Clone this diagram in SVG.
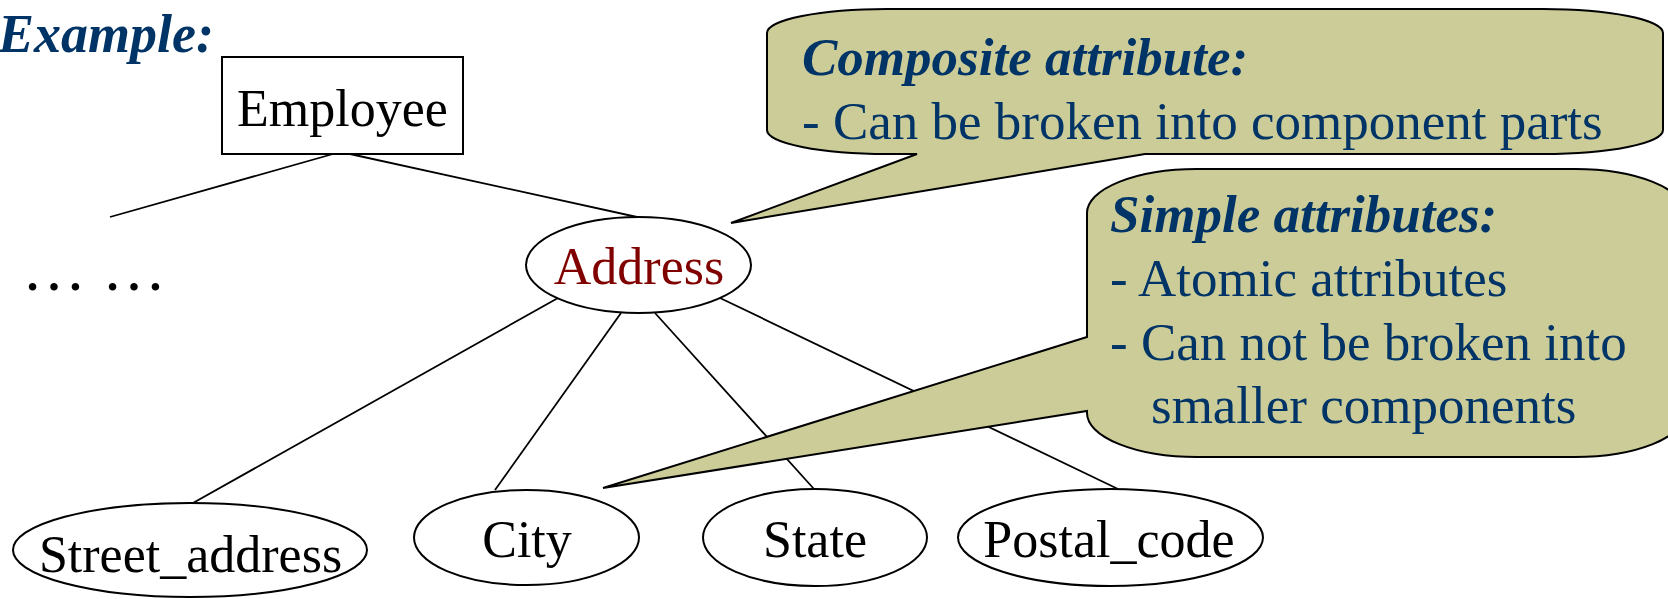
<svg xmlns="http://www.w3.org/2000/svg" width="1668" height="599" viewBox="0 0 1668 599">
  <style>
    .serif { font-family: "Liberation Serif", "Times New Roman", serif; }
    .shape { fill: #ffffff; stroke: #000000; stroke-width: 2; }
    .label { font-size: 52px; fill: #000000; text-anchor: middle; }
    .conn line { stroke: #000000; stroke-width: 1.8; }
    .callout { fill: #cccc99; stroke: #000000; stroke-width: 2; stroke-linejoin: miter; }
    .note { font-size: 53px; fill: #003366; }
    .head { font-weight: bold; font-style: italic; }
  </style>

  <rect width="1668" height="599" fill="#ffffff"/>

  <!-- heading -->
  <text class="serif head" x="-2" y="52" font-size="54" fill="#003366">Example:</text>

  <!-- elided sibling attributes -->
  <text class="serif" x="22" y="290" font-size="64" fill="#000000">… …</text>

  <!-- connectors -->
  <g id="connectors" class="conn">
    <line x1="333" y1="154" x2="110" y2="217"/>
    <line x1="350" y1="154" x2="637" y2="217"/>
    <line x1="558" y1="298" x2="193" y2="503"/>
    <line x1="621" y1="313" x2="495" y2="490"/>
    <line x1="655" y1="313" x2="814" y2="489"/>
    <line x1="720" y1="298" x2="1118" y2="489"/>
  </g>

  <!-- entity -->
  <g id="employee">
    <rect class="shape" x="222" y="57" width="241" height="97"/>
    <text class="serif label" x="342.5" y="126" font-size="53">Employee</text>
  </g>

  <!-- composite attribute -->
  <g id="address">
    <ellipse class="shape" cx="638.5" cy="265" rx="112.5" ry="48"/>
    <text class="serif label" x="639" y="284" style="fill:#800000">Address</text>
  </g>

  <!-- simple attributes -->
  <g id="street-address">
    <ellipse class="shape" cx="190" cy="550" rx="177" ry="47"/>
    <text class="serif label" x="190.5" y="572">Street_address</text>
  </g>
  <g id="city">
    <ellipse class="shape" cx="526.5" cy="537.5" rx="112.5" ry="47.5"/>
    <text class="serif label" x="527" y="557">City</text>
  </g>
  <g id="state">
    <ellipse class="shape" cx="815" cy="537.5" rx="112" ry="48.5"/>
    <text class="serif label" x="815" y="557">State</text>
  </g>
  <g id="postal-code">
    <ellipse class="shape" cx="1110.5" cy="537.5" rx="152.5" ry="48.5"/>
    <text class="serif label" x="1109" y="557">Postal_code</text>
  </g>

  <!-- callout: composite attribute -->
  <g id="note-composite">
    <path class="callout" d="M 887,9 H 1543 A 120 24 0 0 1 1663 33 V 130 A 120 24 0 0 1 1543 154 H 1145 L 731 223 L 917 154 H 887 A 120 24 0 0 1 767 130 V 33 A 120 24 0 0 1 887 9 Z"/>
    <text class="serif note head" x="802" y="75">Composite attribute:</text>
    <text class="serif note" x="802" y="139">- Can be broken into component parts</text>
  </g>

  <!-- callout: simple attributes -->
  <g id="note-simple">
    <path class="callout" d="M 1197,169 H 1575 A 110 44 0 0 1 1685 213 V 413 A 110 44 0 0 1 1575 457 H 1197 A 110 44 0 0 1 1087 413 V 411 L 603 488 L 1087 337 V 213 A 110 44 0 0 1 1197 169 Z"/>
    <text class="serif note head" x="1110" y="232">Simple attributes:</text>
    <text class="serif note" x="1110" y="296">- Atomic attributes</text>
    <text class="serif note" x="1110" y="360">- Can not be broken into</text>
    <text class="serif note" x="1151" y="423">smaller components</text>
  </g>
</svg>
